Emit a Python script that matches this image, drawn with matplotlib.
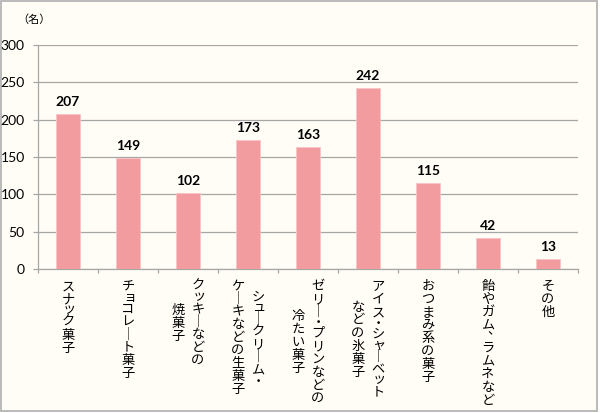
import matplotlib
matplotlib.use('Agg')
from matplotlib import pyplot as plt
from matplotlib.patches import Rectangle
import numpy as np

jp = ['Noto Sans CJK JP', 'DejaVu Sans']
num_font = 'Lato'

values = [207, 149, 102, 173, 163, 242, 115, 42, 13]
# each label: list of vertical columns, first one is the rightmost
labels = [
    ['スナック菓子'],
    ['チョコレート菓子'],
    ['クッキーなどの', '焼菓子'],
    ['シュークリーム・', 'ケーキなどの生菓子'],
    ['ゼリー・プリンなどの', '冷たい菓子'],
    ['アイス・シャーベット', 'などの氷菓子'],
    ['おつまみ系の菓子'],
    ['飴やガム、ラムネなど'],
    ['その他'],
]
yticks = [0, 50, 100, 150, 200, 250, 300]

bg = '#FFFDF6'
grey = '#A6A6A6'
bar_col = '#F29CA0'

fig = plt.figure(figsize=(6, 4.13), dpi=100)
fig.patch.set_facecolor('white')
fig.patches.append(Rectangle((0.6/600, 2.2/413), 596.6/600, 410.0/413,
                             transform=fig.transFigure, facecolor=bg,
                             edgecolor='#B4B4B4', lw=1.3, zorder=-1))

ax = fig.add_axes([38/600, 1-269/413, 540/600, 224/413])
ax.set_facecolor(bg)
ax.patch.set_alpha(0)

x = np.arange(len(values))
ax.bar(x, values, width=0.39, color=bar_col, edgecolor='#F7C4C6', lw=0.6, zorder=3)

for i, v in enumerate(values):
    ax.annotate(str(v), xy=(i, v), xytext=(0, 6), textcoords='offset pixels',
                ha='center', va='bottom', fontsize=10, fontweight='bold',
                family=num_font, color='black')

ax.set_xlim(-0.5, len(values)-0.5)
ax.set_ylim(0, 300)
ax.set_yticks(yticks)
ax.set_yticklabels([str(t) for t in yticks], family=num_font, fontsize=10)
ax.set_xticks(np.arange(-0.5, len(values), 1))
ax.set_xticklabels([])
ax.tick_params(axis='both', color=grey, length=3.5, width=0.9)
ax.tick_params(axis='x', length=3)
ax.tick_params(axis='y', pad=6)
ax.grid(axis='y', color=grey, lw=0.9, zorder=0)
ax.set_axisbelow(True)
for s in ['top', 'right']:
    ax.spines[s].set_visible(False)
for s in ['left', 'bottom']:
    ax.spines[s].set_color(grey)
    ax.spines[s].set_linewidth(0.9)

# vertical (tategaki) category labels, drawn char by char
small = 'ッャュョァィゥェォっゃゅょ'
def pitch(ch):
    if ch == '・':
        return 9
    if ch in small or ch == '、':
        return 10
    if ch == 'ー':
        return 12
    return 13

top = 11
for i, cols in enumerate(labels):
    heights = [sum(pitch(c) for c in col) for col in cols]
    block = max(heights)
    n = len(cols)
    for j, col in enumerate(cols):
        dx = 0 if n == 1 else (10 if j == 0 else -10)
        y = top + (block - heights[j]) / 2
        for ch in col:
            p = pitch(ch)
            cy = y + p / 2
            ox, oy = 0, 0
            if ch == 'ー':
                ch = '｜'
            elif ch in small:
                ox, oy = 1.5, 1
            elif ch == '、':
                ox, oy = 6, 6
            ax.annotate(ch, xy=(i, 0), xycoords=('data', 'axes fraction'),
                        xytext=(dx + ox, -cy + oy), textcoords='offset pixels',
                        ha='center', va='center', fontsize=9.5, family=jp,
                        annotation_clip=False)
            y += p

fig.text(17/600, 1-20/413, '（名）', family=jp, fontsize=8, ha='left', va='center')

plt.savefig('out.png', dpi=100, facecolor=fig.get_facecolor())
